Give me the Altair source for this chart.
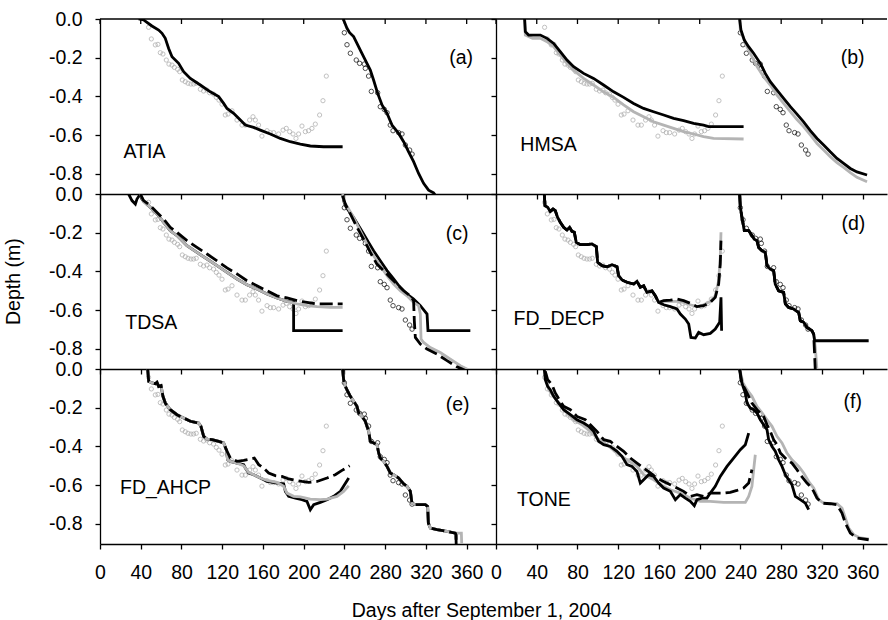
import altair as alt
import pandas as pd

FONT = "Liberation Sans"
FS = 19.5
BLACK = "#000000"
GRAY_LINE = "#b4b4b4"
GRAY_PT = "#a8a8a8"

X_TICKS = [0, 40, 80, 120, 160, 200, 240, 280, 320, 360]
Y_TICKS = [0.0, -0.2, -0.4, -0.6, -0.8]
Y_DOMAIN = [-0.904, 0.0]
X_DOMAIN_LEFT = [0, 388.8]
X_DOMAIN_RIGHT = [0, 383.9]
W_LEFT, W_RIGHT, H = 396, 391, 175

# observed frost depth (freezing front, gray circles) and thaw depth (black circles)
OBS_FREEZE = [(47.7, -0.043), (50.4, -0.103), (54.3, -0.134), (56.9, -0.131), (59.2, -0.174), (61.8, -0.181),
              (65.1, -0.212), (67.7, -0.233), (70.7, -0.238), (73.0, -0.250), (76.2, -0.260), (78.2, -0.272),
              (80.8, -0.315), (83.7, -0.324), (86.4, -0.332), (89.3, -0.336), (91.9, -0.336), (94.5, -0.332),
              (98.5, -0.363), (101.7, -0.372), (105.0, -0.367), (107.6, -0.381), (111.5, -0.388), (114.2, -0.405),
              (116.8, -0.419), (119.8, -0.440), (123.0, -0.496), (125.7, -0.491), (129.6, -0.474), (134.5, -0.522),
              (139.4, -0.548), (142.7, -0.548), (146.9, -0.522), (150.2, -0.505), (152.5, -0.522), (155.7, -0.548),
              (159.0, -0.605), (164.0, -0.577), (167.2, -0.587), (170.5, -0.587), (175.4, -0.594), (179.7, -0.574),
              (182.9, -0.565), (186.2, -0.582), (189.5, -0.594), (192.4, -0.617), (195.0, -0.594), (198.3, -0.553),
              (201.6, -0.582), (204.8, -0.577), (208.1, -0.565), (211.4, -0.543), (215.6, -0.496), (218.9, -0.422),
              (222.2, -0.295)]
OBS_THAW = [(239.9, -0.071), (242.5, -0.133), (245.8, -0.177), (251.6, -0.212), (254.9, -0.229), (259.5, -0.233),
            (260.5, -0.255), (263.7, -0.295), (266.4, -0.374), (272.6, -0.381), (275.2, -0.453), (279.1, -0.467),
            (281.8, -0.484), (285.0, -0.548), (287.7, -0.577), (293.2, -0.587), (296.5, -0.594), (299.8, -0.651),
            (304.0, -0.677), (306.4, -0.698)]

# (a) ATIA
A_BLACK_L = [(37.9, 0.0), (42.8, -0.005), (51.0, -0.036), (57.6, -0.057), (60.9, -0.074), (64.1, -0.100),
             (67.4, -0.152), (70.7, -0.195), (77.2, -0.229), (82.1, -0.272), (88.7, -0.307), (98.5, -0.341),
             (108.3, -0.376), (116.5, -0.401), (121.4, -0.436), (124.7, -0.462), (131.2, -0.487), (137.8, -0.522),
             (142.7, -0.548), (150.8, -0.560), (157.4, -0.574), (167.2, -0.594), (177.0, -0.617), (186.8, -0.634),
             (196.7, -0.646), (206.5, -0.656), (219.5, -0.660), (238.2, -0.660)]
A_BLACK_R = [(238.6, 0.0), (239.9, -0.014), (242.5, -0.048), (245.1, -0.071), (249.0, -0.091), (252.3, -0.126),
             (256.3, -0.169), (260.5, -0.212), (265.4, -0.264), (268.6, -0.315), (272.6, -0.384), (276.9, -0.444),
             (281.8, -0.487), (286.7, -0.548), (293.2, -0.591), (298.1, -0.634), (303.0, -0.686), (307.9, -0.737),
             (312.8, -0.798), (317.7, -0.849), (322.6, -0.884), (327.5, -0.898), (332.0, -0.930)]

# (b) HMSA
B_BLACK_L = [(28.1, 0.0), (28.8, -0.065), (32.0, -0.083), (43.5, -0.083), (50.1, -0.100), (56.6, -0.126),
             (63.1, -0.169), (69.7, -0.212), (76.2, -0.246), (86.0, -0.281), (95.8, -0.307), (105.6, -0.341),
             (115.5, -0.376), (125.3, -0.405), (135.1, -0.436), (144.9, -0.462), (154.7, -0.479), (164.6, -0.496),
             (174.4, -0.513), (184.2, -0.525), (194.0, -0.539), (203.8, -0.548), (208.7, -0.556), (243.1, -0.556)]
B_GRAY_L = [(28.1, 0.0), (28.8, -0.083), (35.9, -0.100), (43.5, -0.100), (50.1, -0.117), (56.6, -0.143),
            (63.1, -0.186), (69.7, -0.229), (76.2, -0.264), (86.0, -0.307), (95.8, -0.341), (105.6, -0.376),
            (115.5, -0.405), (125.3, -0.444), (135.1, -0.479), (144.9, -0.505), (154.7, -0.531), (164.6, -0.548),
            (174.4, -0.565), (184.2, -0.582), (194.0, -0.594), (203.8, -0.608), (213.6, -0.617), (243.1, -0.620)]
B_BLACK_R = [(239.2, 0.0), (240.5, -0.057), (243.8, -0.109), (248.0, -0.143), (252.9, -0.177), (259.5, -0.229),
             (264.4, -0.281), (269.3, -0.324), (275.9, -0.367), (282.4, -0.410), (289.0, -0.453), (295.5, -0.491),
             (302.0, -0.531), (308.6, -0.577), (315.2, -0.617), (321.7, -0.651), (328.2, -0.686), (334.8, -0.720),
             (341.3, -0.746), (347.9, -0.772), (354.4, -0.790), (364.3, -0.806)]
B_GRAY_R = [(239.2, 0.0), (239.9, -0.057), (242.5, -0.091), (246.4, -0.143), (251.3, -0.195), (256.3, -0.246),
            (262.7, -0.298), (269.3, -0.341), (275.9, -0.393), (282.4, -0.436), (289.0, -0.479), (295.5, -0.519),
            (302.0, -0.556), (308.6, -0.599), (315.2, -0.643), (321.7, -0.677), (328.2, -0.711), (334.8, -0.742),
            (341.3, -0.767), (347.9, -0.794), (354.4, -0.818), (364.3, -0.841)]

# (c) TDSA
C_BLACK_L = [(28.1, 0.0), (31.4, -0.034), (34.7, -0.052), (36.3, -0.026), (39.6, 0.0), (41.2, -0.026),
             (42.8, -0.038), (49.4, -0.069), (56.0, -0.103), (62.5, -0.146), (69.0, -0.190), (75.6, -0.215),
             (85.4, -0.267), (95.2, -0.302), (105.1, -0.336), (114.9, -0.370), (124.7, -0.405), (134.5, -0.439),
             (144.3, -0.469), (154.1, -0.491), (164.0, -0.517), (173.8, -0.537), (183.6, -0.555), (190.1, -0.560),
             (190.1, -0.706), (238.2, -0.706)]
C_GRAY_L = [(39.6, 0.0), (42.8, -0.038), (49.4, -0.069), (56.0, -0.103), (62.5, -0.146), (69.0, -0.190),
            (75.6, -0.215), (85.4, -0.267), (95.2, -0.302), (105.1, -0.336), (114.9, -0.370), (124.7, -0.405),
            (134.5, -0.439), (144.3, -0.469), (154.1, -0.491), (164.0, -0.517), (173.8, -0.537), (183.6, -0.555),
            (193.4, -0.568), (203.2, -0.577), (213.1, -0.582), (226.1, -0.586), (238.2, -0.586)]
C_DASH_L = [(39.6, 0.0), (42.8, -0.034), (49.4, -0.060), (56.0, -0.095), (62.5, -0.129), (69.0, -0.172),
            (75.6, -0.198), (85.4, -0.241), (95.2, -0.276), (105.1, -0.310), (114.9, -0.345), (124.7, -0.382),
            (134.5, -0.413), (144.3, -0.448), (154.1, -0.474), (164.0, -0.500), (173.8, -0.526), (183.6, -0.537),
            (193.4, -0.551), (203.2, -0.560), (213.1, -0.568), (226.1, -0.568), (238.2, -0.568)]
C_BLACK_R = [(238.2, 0.0), (239.2, -0.034), (240.9, -0.060), (244.1, -0.086), (249.0, -0.121), (253.9, -0.164),
             (258.8, -0.207), (263.7, -0.250), (268.6, -0.293), (275.2, -0.345), (281.8, -0.396), (288.3, -0.439),
             (294.8, -0.483), (301.4, -0.517), (307.9, -0.543), (314.5, -0.577), (321.1, -0.620), (322.0, -0.706),
             (363.6, -0.706)]
C_GRAY_R = [(238.2, 0.0), (239.9, -0.043), (244.1, -0.078), (249.0, -0.121), (253.9, -0.172), (258.8, -0.224),
            (263.7, -0.276), (268.6, -0.319), (275.2, -0.370), (281.8, -0.422), (288.3, -0.465), (294.8, -0.500),
            (301.4, -0.526), (307.9, -0.560), (312.8, -0.577), (314.5, -0.620), (315.2, -0.749), (317.7, -0.767),
            (324.3, -0.793), (334.1, -0.819), (344.0, -0.853), (353.8, -0.887), (363.6, -0.913)]
C_DASH_R = [(238.2, -0.009), (240.9, -0.052), (245.8, -0.103), (252.3, -0.172), (258.8, -0.233), (265.4, -0.302),
            (271.9, -0.362), (278.5, -0.396), (285.0, -0.431), (291.6, -0.465), (298.1, -0.500), (304.7, -0.526),
            (307.9, -0.551), (308.6, -0.655), (309.6, -0.741), (314.5, -0.775), (321.1, -0.801), (330.9, -0.827),
            (340.7, -0.861), (350.5, -0.893), (363.6, -0.922)]

# (d) FD_DECP
D_COMMON_L = [(47.4, 0.0), (48.1, -0.060), (50.7, -0.069), (53.3, -0.090), (56.0, -0.078), (58.2, -0.086),
              (60.5, -0.121), (63.1, -0.146), (66.4, -0.172), (69.7, -0.186), (72.3, -0.172), (74.6, -0.193),
              (76.9, -0.198), (78.8, -0.250), (82.8, -0.262), (89.3, -0.262), (94.2, -0.258), (98.5, -0.272),
              (99.8, -0.353), (104.1, -0.370), (109.0, -0.376), (113.9, -0.365), (118.8, -0.376), (120.4, -0.422),
              (123.7, -0.444), (128.6, -0.456), (135.2, -0.465), (138.4, -0.451), (141.7, -0.482), (145.0, -0.474),
              (148.2, -0.508), (153.1, -0.500), (156.4, -0.525), (159.7, -0.560)]
D_BLACK_L_TAIL = [(164.6, -0.572), (171.2, -0.582), (177.7, -0.594), (181.0, -0.620), (185.9, -0.646),
                  (189.2, -0.672), (191.4, -0.741), (195.7, -0.744), (199.0, -0.715), (203.9, -0.727),
                  (210.4, -0.720), (215.3, -0.698), (219.6, -0.663), (220.9, -0.534), (221.5, -0.706)]
D_DASH_L_TAIL = [(164.6, -0.551), (171.2, -0.548), (177.7, -0.543), (184.2, -0.551), (190.8, -0.565),
                 (197.3, -0.582), (203.9, -0.577), (210.4, -0.560), (215.3, -0.534), (218.6, -0.465),
                 (220.2, -0.362), (220.9, -0.241)]
D_GRAY_L_TAIL = [(164.6, -0.555), (171.2, -0.555), (177.7, -0.555), (184.2, -0.560), (190.8, -0.572),
                 (197.3, -0.582), (203.9, -0.572), (210.4, -0.555), (215.3, -0.525), (218.6, -0.448),
                 (220.2, -0.327), (220.9, -0.198)]
D_COMMON_R = [(239.2, 0.0), (239.9, -0.069), (241.5, -0.121), (243.8, -0.189), (248.1, -0.189), (251.3, -0.215),
              (253.6, -0.233), (256.2, -0.241), (257.9, -0.276), (261.2, -0.293), (264.4, -0.301), (266.1, -0.370),
              (269.3, -0.388), (272.6, -0.396), (274.2, -0.465), (277.5, -0.500), (282.4, -0.508), (284.1, -0.568),
              (287.3, -0.586), (292.2, -0.594), (297.2, -0.612), (298.8, -0.655), (302.1, -0.663), (305.3, -0.689),
              (310.2, -0.706), (311.9, -0.724)]
D_BLACK_R_TAIL = [(312.9, -0.758), (365.9, -0.758)]
D_DASH_R_TAIL = [(312.5, -0.792), (313.5, -0.913), (313.8, -0.960)]
D_GRAY_R_TAIL = [(313.5, -0.792), (315.2, -0.913), (315.5, -0.960)]

# (e) FD_AHCP
E_COMMON_L = [(46.8, 0.0), (47.8, -0.064), (51.0, -0.072), (54.3, -0.076), (55.9, -0.069), (57.6, -0.090),
              (59.9, -0.086), (61.8, -0.141), (64.1, -0.176), (69.0, -0.210), (75.6, -0.236), (82.1, -0.253),
              (88.7, -0.270), (93.6, -0.276), (96.9, -0.279), (99.1, -0.296), (101.8, -0.348), (105.0, -0.362),
              (110.0, -0.365), (116.5, -0.374), (121.4, -0.382), (124.0, -0.417)]
E_BLACK_L_TAIL = [(125.3, -0.469), (128.0, -0.477), (134.5, -0.486), (141.1, -0.494), (142.7, -0.512),
                  (146.0, -0.537), (150.9, -0.546), (157.4, -0.563), (164.0, -0.581), (173.8, -0.589),
                  (180.3, -0.593), (182.0, -0.632), (185.2, -0.658), (191.8, -0.667), (198.3, -0.675),
                  (203.2, -0.684), (206.5, -0.727), (209.8, -0.701), (216.3, -0.689), (222.9, -0.675),
                  (229.4, -0.658), (236.0, -0.632), (244.2, -0.563)]
E_GRAY_L_TAIL = [(125.3, -0.469), (128.0, -0.477), (134.5, -0.486), (141.1, -0.500), (146.0, -0.534),
                 (150.9, -0.546), (157.4, -0.563), (164.0, -0.575), (173.8, -0.586), (180.3, -0.606),
                 (183.6, -0.641), (190.1, -0.658), (196.7, -0.661), (206.5, -0.672), (216.3, -0.675),
                 (222.9, -0.672), (232.7, -0.658), (239.2, -0.632), (244.2, -0.603)]
E_DASH_L_TAIL = [(128.0, -0.460), (134.5, -0.477), (141.1, -0.472), (147.6, -0.465), (151.5, -0.460),
                 (155.8, -0.494), (160.7, -0.512), (165.6, -0.537), (172.1, -0.551), (178.7, -0.555),
                 (185.2, -0.568), (191.8, -0.575), (198.3, -0.581), (204.9, -0.586), (213.1, -0.581),
                 (222.9, -0.563), (231.0, -0.546), (237.6, -0.524), (245.1, -0.500)]
E_COMMON_R = [(238.2, 0.0), (239.2, -0.055), (240.9, -0.090), (243.2, -0.115), (245.8, -0.141), (249.1, -0.167),
              (252.3, -0.193), (254.0, -0.227), (257.2, -0.245), (260.5, -0.270), (262.1, -0.296), (263.8, -0.322),
              (265.4, -0.374), (268.7, -0.382), (272.0, -0.391), (273.6, -0.434), (275.2, -0.460), (278.5, -0.477),
              (281.8, -0.503), (285.0, -0.537), (288.3, -0.546), (293.2, -0.563), (298.1, -0.593), (301.4, -0.606),
              (304.7, -0.632), (306.3, -0.693), (309.6, -0.701), (319.4, -0.701), (321.7, -0.710), (322.4, -0.796),
              (324.3, -0.822), (330.9, -0.830), (340.7, -0.839), (348.9, -0.848)]
E_DASH_R_TAIL = [(349.5, -0.856), (349.9, -0.950)]
E_GRAY_R_TAIL = [(354.8, -0.848), (355.4, -0.950)]

# (f) TONE
F_BLACK_L = [(47.4, 0.0), (48.4, -0.055), (50.7, -0.090), (53.3, -0.107), (56.6, -0.141), (61.5, -0.176),
             (66.4, -0.210), (73.0, -0.236), (79.5, -0.262), (86.1, -0.279), (91.0, -0.296), (95.9, -0.322),
             (100.8, -0.374), (105.7, -0.391), (112.2, -0.400), (118.8, -0.425), (123.7, -0.451), (128.6, -0.494),
             (133.5, -0.503), (138.4, -0.529), (141.7, -0.589), (145.0, -0.572), (149.9, -0.546), (154.8, -0.555),
             (159.7, -0.589), (164.6, -0.615), (171.2, -0.632), (176.1, -0.675), (181.0, -0.649), (185.9, -0.667),
             (190.8, -0.684), (194.7, -0.706), (197.3, -0.675), (202.2, -0.667), (207.1, -0.667), (210.4, -0.641),
             (215.3, -0.606), (220.2, -0.555), (226.8, -0.503), (233.3, -0.460), (239.9, -0.417), (244.8, -0.391),
             (248.1, -0.331)]
F_GRAY_L = [(48.4, -0.012), (51.7, -0.107), (56.6, -0.141), (63.1, -0.184), (69.7, -0.227), (76.2, -0.262),
            (84.4, -0.288), (92.6, -0.322), (100.8, -0.365), (109.0, -0.391), (118.8, -0.434), (128.6, -0.469),
            (138.4, -0.503), (145.0, -0.546), (154.8, -0.572), (164.6, -0.606), (171.2, -0.624), (181.0, -0.641),
            (190.8, -0.667), (200.6, -0.684), (210.4, -0.684), (223.5, -0.689), (236.6, -0.689), (244.8, -0.689),
            (248.1, -0.658), (251.3, -0.606), (253.0, -0.520), (254.6, -0.443)]
F_DASH_L = [(48.4, -0.012), (50.7, -0.055), (55.0, -0.081), (58.2, -0.124), (63.1, -0.167), (66.4, -0.193),
            (73.0, -0.210), (79.5, -0.245), (87.7, -0.262), (92.6, -0.288), (99.1, -0.322), (105.7, -0.365),
            (112.2, -0.374), (118.8, -0.400), (125.3, -0.425), (131.9, -0.460), (138.4, -0.486), (145.0, -0.512),
            (151.5, -0.537), (158.1, -0.563), (164.6, -0.581), (171.2, -0.598), (177.7, -0.615), (184.2, -0.632),
            (190.8, -0.658), (197.3, -0.649), (203.9, -0.658), (210.4, -0.641), (217.0, -0.641), (223.5, -0.641),
            (230.0, -0.637), (236.6, -0.627), (243.1, -0.615), (248.1, -0.589), (251.3, -0.520)]
F_BLACK_R = [(239.2, 0.0), (240.5, -0.055), (242.5, -0.090), (244.8, -0.124), (246.4, -0.176), (249.7, -0.202),
             (253.0, -0.210), (256.2, -0.227), (259.5, -0.262), (262.8, -0.288), (266.1, -0.314), (267.7, -0.365),
             (271.0, -0.400), (274.2, -0.425), (277.5, -0.469), (280.8, -0.503), (284.1, -0.546), (287.3, -0.572),
             (290.6, -0.598), (293.9, -0.658), (298.8, -0.675), (303.7, -0.693), (307.0, -0.727)]
F_DASH_R = [(239.2, 0.0), (241.5, -0.074), (244.8, -0.107), (248.1, -0.141), (251.3, -0.176), (256.2, -0.210),
            (259.5, -0.227), (262.8, -0.245), (266.1, -0.288), (269.3, -0.322), (272.6, -0.365), (275.9, -0.391),
            (279.2, -0.434), (285.7, -0.469), (290.6, -0.486), (295.5, -0.520), (298.8, -0.546), (305.3, -0.589),
            (308.6, -0.606), (311.9, -0.632), (315.2, -0.667), (320.1, -0.693), (328.3, -0.696), (334.8, -0.701),
            (339.7, -0.744), (343.0, -0.796), (347.9, -0.848), (354.4, -0.873), (365.9, -0.882)]
F_GRAY_R = [(239.2, 0.0), (242.5, -0.072), (246.4, -0.107), (251.3, -0.141), (256.2, -0.193), (261.2, -0.227),
            (266.1, -0.262), (271.0, -0.296), (275.9, -0.348), (280.8, -0.382), (285.7, -0.434), (290.6, -0.469),
            (297.2, -0.503), (302.1, -0.537), (307.0, -0.581), (311.9, -0.615), (316.8, -0.675), (321.7, -0.693),
            (334.8, -0.696), (339.7, -0.718), (343.0, -0.770), (346.3, -0.822), (351.2, -0.856), (357.7, -0.873),
            (365.9, -0.878)]

PANELS = [
    {"name": "ATIA", "tag": "(a)", "gray": [], "black": [A_BLACK_L, A_BLACK_R], "dash": [],
     "order": ["gray", "black", "dash"]},
    {"name": "HMSA", "tag": "(b)", "gray": [B_GRAY_L, B_GRAY_R], "black": [B_BLACK_L, B_BLACK_R], "dash": [],
     "order": ["gray", "black", "dash"]},
    {"name": "TDSA", "tag": "(c)", "gray": [C_GRAY_L, C_GRAY_R], "black": [C_BLACK_L, C_BLACK_R],
     "dash": [C_DASH_L, C_DASH_R], "order": ["black", "gray", "dash"]},
    {"name": "FD_DECP", "tag": "(d)", "gray": [D_COMMON_L + D_GRAY_L_TAIL, D_COMMON_R + D_GRAY_R_TAIL],
     "black": [D_COMMON_L + D_BLACK_L_TAIL, D_COMMON_R + D_BLACK_R_TAIL],
     "dash": [D_COMMON_L + D_DASH_L_TAIL, D_COMMON_R + D_DASH_R_TAIL], "order": ["gray", "black", "dash"]},
    {"name": "FD_AHCP", "tag": "(e)", "gray": [E_COMMON_L + E_GRAY_L_TAIL, E_COMMON_R + E_GRAY_R_TAIL],
     "black": [E_COMMON_L + E_BLACK_L_TAIL, E_COMMON_R + E_DASH_R_TAIL],
     "dash": [E_COMMON_L + E_DASH_L_TAIL, E_COMMON_R + E_DASH_R_TAIL], "order": ["black", "gray", "dash"]},
    {"name": "TONE", "tag": "(f)", "gray": [F_GRAY_L, F_GRAY_R], "black": [F_BLACK_L, F_BLACK_R],
     "dash": [F_DASH_L, F_DASH_R], "order": ["gray", "black", "dash"]},
]

# text placement (pixels inside each panel)
NAME_POS = [(23.5, 133), (24.3, 126), (25.3, 129), (17.6, 125), (20.0, 119), (21.0, 131)]
TAG_POS = [(373, 39), (368.6, 38.5), (368.6, 40), (369.3, 30), (369.6, 36), (366, 33)]


def pts_df(pts):
    return pd.DataFrame({"day": [p[0] for p in pts], "depth": [p[1] for p in pts]})


def series_df(segments):
    rows = []
    for s, pts in enumerate(segments):
        for i, (d, z) in enumerate(pts):
            rows.append({"seg": s, "i": i, "day": d, "depth": z})
    return pd.DataFrame(rows)


LINE_STYLE = {
    "gray": dict(color=GRAY_LINE, strokeWidth=2.8),
    "black": dict(color=BLACK, strokeWidth=2.8),
    "dash": dict(color=BLACK, strokeWidth=2.8, strokeDash=[13, 5]),
}

LABEL_STYLE = dict(labelFont=FONT, labelFontSize=FS, labelColor=BLACK, tickColor=BLACK, domainColor=BLACK,
                   tickWidth=1.3, domainWidth=1.3)


def make_panel(k):
    p = PANELS[k]
    row, col = divmod(k, 2)
    w = W_LEFT if col == 0 else W_RIGHT
    xdom = X_DOMAIN_LEFT if col == 0 else X_DOMAIN_RIGHT
    x_axis = alt.Axis(values=X_TICKS, labels=(row == 2), ticks=True, tickSize=5, domain=True, grid=False,
                      title=None, labelPadding=14, labelFlush=False, labelOverlap=False, format="d",
                      **LABEL_STYLE)
    if col == 0:
        y_axis = alt.Axis(values=Y_TICKS, labels=True, ticks=True, tickSize=5, domain=True, grid=False,
                          title=None, labelPadding=13, labelExpr="replace(datum.label, '\u2212', '-')",
                          format=".1f", labelOverlap=False, **LABEL_STYLE)
    else:
        y_axis = alt.Axis(values=Y_TICKS, labels=False, ticks=True, tickSize=5, domain=True, grid=False,
                          title=None, **LABEL_STYLE)
    x = alt.X("day:Q", scale=alt.Scale(domain=xdom, nice=False, zero=False), axis=x_axis)
    y = alt.Y("depth:Q", scale=alt.Scale(domain=Y_DOMAIN, nice=False, zero=False), axis=y_axis)

    layers = [
        alt.Chart(pts_df(OBS_FREEZE)).mark_point(shape="circle", filled=False, color=GRAY_PT, size=18,
                                                  strokeWidth=1, clip=True).encode(x=x, y=y),
        alt.Chart(pts_df(OBS_THAW)).mark_point(shape="circle", filled=False, color=BLACK, size=20,
                                                strokeWidth=1, clip=True).encode(x=x, y=y),
    ]
    for style in p["order"]:
        segs = p[style]
        if not segs:
            continue
        layers.append(
            alt.Chart(series_df(segs)).mark_line(clip=True, **LINE_STYLE[style]).encode(
                x=x, y=y, detail="seg:N", order=alt.Order("i:Q"))
        )
    nx, ny = NAME_POS[k]
    layers.append(alt.Chart(pd.DataFrame({"label": [p["name"]]})).mark_text(
        font=FONT, fontSize=FS, color=BLACK, align="left", baseline="middle").encode(
        x=alt.value(nx), y=alt.value(ny), text="label:N"))
    tx, ty = TAG_POS[k]
    layers.append(alt.Chart(pd.DataFrame({"label": [p["tag"]]})).mark_text(
        font=FONT, fontSize=FS, color=BLACK, align="right", baseline="middle").encode(
        x=alt.value(tx), y=alt.value(ty), text="label:N"))
    if row == 0:
        layers.append(alt.Chart(pd.DataFrame({"day": X_TICKS})).mark_rule(color=BLACK, strokeWidth=1.3).encode(
            x=x, y=alt.value(0), y2=alt.value(5)))
        layers.append(alt.Chart(pd.DataFrame({"a": [0]})).mark_rule(color=BLACK, strokeWidth=1.3).encode(
            x=alt.value(0), x2=alt.value(w), y=alt.value(0)))
    if k == 2:
        layers.append(alt.Chart(pd.DataFrame({"label": ["Depth (m)"]})).mark_text(
            font=FONT, fontSize=FS, color=BLACK, align="center", baseline="middle", angle=270).encode(
            x=alt.value(-85.7), y=alt.value(87.7), text="label:N"))
    if k == 4:
        layers.append(alt.Chart(pd.DataFrame({"label": ["Days after September 1, 2004"]})).mark_text(
            font=FONT, fontSize=FS, color=BLACK, align="center", baseline="middle").encode(
            x=alt.value(381.8), y=alt.value(241.5), text="label:N"))
    return alt.layer(*layers).properties(width=w, height=H)


chart = alt.concat(*[make_panel(k) for k in range(6)], columns=2, spacing=0, bounds="flush").properties(
    padding={"left": 4, "top": 9, "right": 0, "bottom": 0}
).configure(font=FONT).configure_view(strokeWidth=0)

chart.save("out.html", embed_options={"renderer": "svg", "actions": False})
